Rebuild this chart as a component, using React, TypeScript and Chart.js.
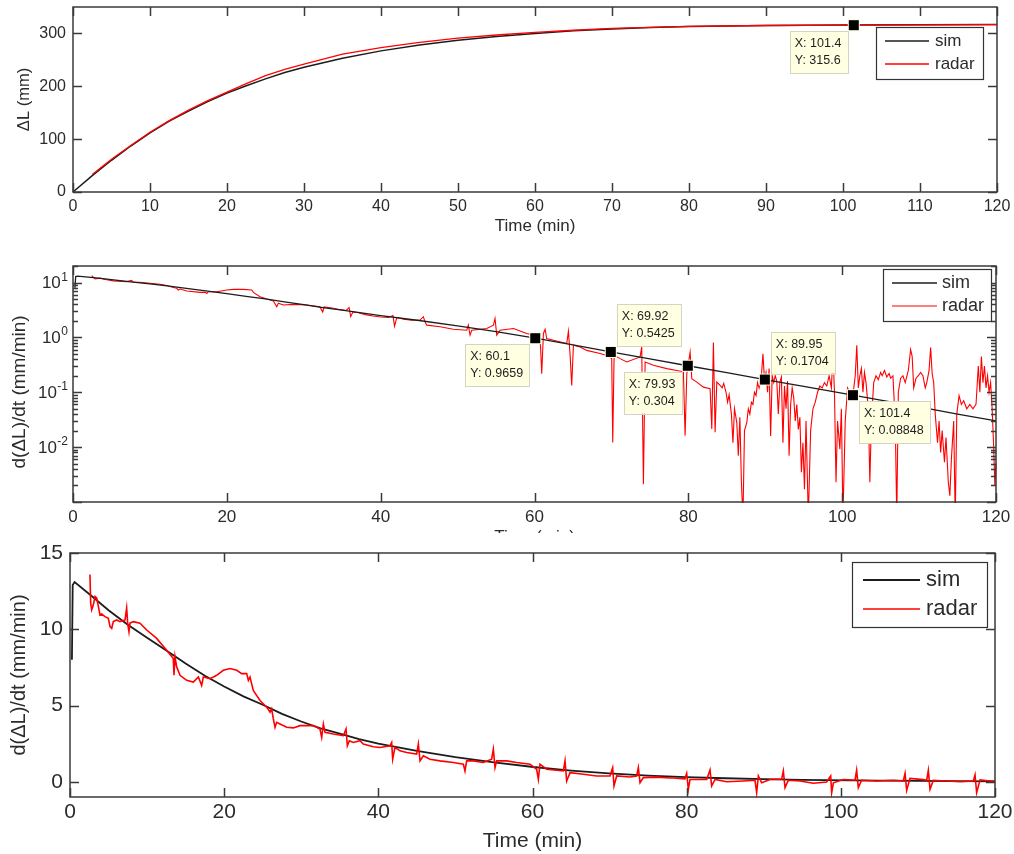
import React, { useEffect, useRef } from "react";
import { Chart, registerables } from "chart.js";

Chart.register(...registerables);

const FONT = '"Liberation Sans", Arial, Helvetica, sans-serif';
const INK = "#2b2b2b";
const SIM_COLOR = "#1c1c1c";
const RADAR_COLOR = "#ff0000";

// ---------------- data ----------------
const timeTicks10 = [0, 10, 20, 30, 40, 50, 60, 70, 80, 90, 100, 110, 120];
const timeTicks20 = [0, 20, 40, 60, 80, 100, 120];
const dlTicks = [0, 100, 200, 300];
const logTicks = [0.01, 0.1, 1, 10];
const rateTicks = [0, 5, 10, 15];

// Panel 1: cumulative ΔL (mm)
const simDLTime = [0, 2.5, 5, 7.5, 10, 12.5, 15, 17.5, 20, 22.5, 25, 27.5, 30, 35, 40, 45, 50, 55, 60, 65, 70, 75, 80, 90, 100, 110, 120];
const simDL = [0, 31, 60, 87, 112, 134, 153, 171, 187, 201, 214, 226, 236, 253, 267, 278, 287, 294, 300, 305, 308.5, 311, 313, 315, 316, 316.5, 317];
const radarDLTime = [2.5, 5, 7.5, 10, 12.5, 15, 17.5, 20, 22.5, 25, 27.5, 30, 35, 40, 45, 50, 55, 60, 65, 70, 80, 90, 101.4, 110, 120];
const radarDL = [33, 62, 88, 113, 135, 155, 173, 189, 205, 220, 232, 242, 261, 273, 283, 291, 297, 302, 306, 309.5, 313.5, 315, 315.6, 316, 316.5];
const tipDLTime = [101.4];
const tipDLValue = [315.6];

// Simulated rate d(ΔL)/dt (mm/min)
const simRateTime = [0.25, 0.35, 0.6, 3, 5, 7.5, 10, 12.5, 15, 17.5, 20, 22.5, 25, 27.5, 30, 32.5, 35, 37.5, 40, 45, 50, 55, 60.1, 65, 69.92, 75, 79.93, 85, 89.95, 95, 101.4, 105, 110, 115, 120];
const simRate = [8.0, 12.9, 13.1, 12.1, 11.25, 10.3, 9.45, 8.6, 7.75, 6.95, 6.25, 5.6, 5.05, 4.45, 3.95, 3.5, 3.15, 2.8, 2.5, 2.03, 1.62, 1.27, 0.966, 0.73, 0.5425, 0.405, 0.304, 0.228, 0.1704, 0.128, 0.08848, 0.072, 0.054, 0.04, 0.03];

// Radar rate
const radarLogTime = [
  2.43, 2.86, 3.51, 4.38, 5.24, 6.98, 7.63, 7.84, 8.71, 10.0, 11.3, 12.2, 13.05, 13.48, 13.7, 13.92, 14.8, 16.5, 17.2, 17.4,
  17.6, 18.7, 20.0, 20.85, 22.15, 23.24, 23.45, 24.32, 25.2, 26.06, 26.49, 26.7, 27.35, 28.65, 30.4, 32.1, 32.47, 32.65, 33.86, 34.73,
  35.5, 35.9, 36.1, 36.4, 37.0, 38.0, 39.0, 40.0, 41.0, 41.6, 41.8, 42.1, 43.0, 44.0, 45.12, 45.55, 45.77, 45.99, 47.72, 49.45,
  51.19, 51.4, 51.62, 51.84, 53.79, 54.66, 54.87, 55.09, 55.52, 57.26, 58.99, 59.86, 60.73, 60.94, 61.16, 61.38, 61.59, 62.46, 64.19, 64.41,
  64.63, 64.84, 65.06, 65.93, 66.79, 68.53, 69.39, 70.04, 70.17, 70.35, 71.13, 71.99, 73.73, 73.94, 74.16, 74.38, 75.46, 77.2, 78.5, 79.36,
  79.58, 79.8, 80.23, 80.45, 81.1, 81.96, 82.83, 83.05, 83.26, 83.48, 83.7, 84.13, 84.4, 84.6, 84.9, 85.1, 85.3, 85.6, 85.8, 86.0,
  86.3, 86.5, 86.7, 86.9, 87.1, 87.3, 87.6, 87.8, 88.0, 88.2, 88.4, 88.6, 88.8, 89.0, 89.2, 89.5, 89.7, 89.9, 90.1, 90.3,
  90.5, 90.7, 90.9, 91.1, 91.3, 91.5, 91.7, 91.9, 92.1, 92.3, 92.5, 92.7, 92.9, 93.1, 93.3, 93.5, 93.7, 93.9, 94.1, 94.3,
  94.5, 94.7, 94.9, 95.1, 95.3, 95.6, 95.9, 96.2, 96.5, 96.8, 97.1, 97.4, 97.7, 98.0, 98.3, 98.6, 98.8, 99.0, 99.2, 99.4,
  99.7, 99.9, 100.1, 100.4, 100.7, 101.0, 101.4, 101.7, 101.9, 102.1, 102.3, 102.5, 102.7, 102.9, 103.1, 103.4, 103.6, 103.8, 104.1, 104.4,
  104.7, 105.0, 105.2, 105.5, 105.8, 106.1, 106.3, 106.6, 106.9, 107.1, 107.3, 107.6, 107.9, 108.2, 108.6, 108.9, 109.1, 109.3, 109.6, 109.9,
  110.2, 110.5, 110.8, 111.0, 111.3, 111.5, 111.7, 111.9, 112.1, 112.4, 112.6, 112.8, 113.0, 113.3, 113.5, 113.8, 114.0, 114.2, 114.5, 114.7,
  114.9, 115.2, 115.5, 115.8, 116.2, 116.6, 117.0, 117.4, 117.7, 117.9, 118.1, 118.3, 118.5, 118.7, 118.9, 119.1, 119.3, 119.5, 119.7, 119.85,
  120.0,
];
const radarLogRate = [
  13.4, 11.6, 12.0, 11.2, 10.7, 10.4, 10.9, 10.1, 10.1, 9.7, 9.3, 8.8, 8.1, 7.85, 7.3, 7.6, 7.0, 6.6, 6.6, 6.3,
  6.8, 6.8, 7.3, 7.5, 7.5, 7.3, 6.6, 5.5, 5.0, 4.6, 3.6, 4.2, 3.9, 4.0, 3.9, 3.6, 2.9, 3.6, 3.4, 3.2,
  3.1, 3.5, 2.4, 2.9, 2.85, 2.6, 2.45, 2.35, 2.3, 2.5, 1.6, 2.3, 2.15, 2.05, 2.07, 2.38, 1.92, 1.67, 1.56, 1.41,
  1.35, 1.67, 1.1, 1.35, 1.45, 1.67, 2.21, 1.1, 1.35, 1.45, 1.18, 1.1, 1.02, 0.218, 1.18, 1.41, 0.95, 0.89, 0.77, 1.3,
  0.47, 0.133, 0.72, 0.67, 0.58, 0.51, 0.47, 0.41, 0.0122, 0.47, 0.41, 0.356, 0.44, 0.67, 0.0021, 0.356, 0.31, 0.27, 0.25, 0.234,
  0.0162, 0.218, 0.54, 0.177, 0.153, 0.124, 0.116, 0.0214, 0.81, 0.0186, 0.153, 0.133, 0.12, 0.145, 0.1, 0.066, 0.09, 0.04, 0.012, 0.05,
  0.028, 0.007, 0.035, 0.0023, 0.0005, 0.02, 0.028, 0.05, 0.04, 0.066, 0.06, 0.1, 0.087, 0.15, 0.12, 0.2, 0.5, 0.17, 0.23, 0.1,
  0.27, 0.016, 0.2, 0.15, 0.2, 0.16, 0.04, 0.15, 0.19, 0.012, 0.13, 0.05, 0.16, 0.007, 0.06, 0.12, 0.08, 0.03, 0.06, 0.021,
  0.035, 0.0035, 0.012, 0.0017, 0.03, 0.0005, 0.02, 0.05, 0.066, 0.1, 0.13, 0.12, 0.15, 0.13, 0.2, 0.12, 0.54, 0.1, 0.0023, 0.03,
  0.0092, 0.05, 0.0005, 0.03, 0.12, 0.1, 0.0885, 0.2, 0.72, 0.12, 0.2, 0.27, 0.1, 0.23, 0.15, 0.05, 0.0023, 0.03, 0.15, 0.2,
  0.17, 0.23, 0.2, 0.25, 0.19, 0.22, 0.18, 0.2, 0.03, 0.0005, 0.1, 0.18, 0.2, 0.15, 0.25, 0.6, 0.45, 0.12, 0.18, 0.2,
  0.23, 0.2, 0.12, 0.15, 0.25, 0.65, 0.22, 0.15, 0.04, 0.012, 0.03, 0.008, 0.02, 0.0053, 0.015, 0.0023, 0.0013, 0.006, 0.03, 0.0005,
  0.04, 0.087, 0.06, 0.07, 0.05, 0.06, 0.05, 0.06, 0.3, 0.1, 0.45, 0.15, 0.3, 0.12, 0.2, 0.1, 0.15, 0.05, 0.01, 0.002,
  0.005,
];
const tipRateTime = [60.1, 69.92, 79.93, 89.95, 101.4];
const tipRateValue = [0.9659, 0.5425, 0.304, 0.1704, 0.08848];

// Radar rate
const radarRateTime = [
  2.59, 2.68, 2.81, 3.03, 3.24, 3.46, 3.68, 3.89, 4.11, 4.54, 4.97, 5.19, 5.41, 5.62, 6.06, 6.49, 7.14, 7.35, 7.48, 7.65,
  7.78, 8.22, 9.08, 9.95, 11.24, 12.54, 13.4, 13.49, 13.62, 13.84, 14.27, 15.14, 16.0, 16.65, 17.08, 17.3, 18.16, 19.03, 19.89, 20.76,
  21.63, 22.27, 22.92, 23.14, 23.35, 23.78, 24.65, 25.52, 25.95, 26.16, 26.38, 26.6, 26.81, 27.24, 28.11, 28.97, 29.84, 31.57, 32.43, 32.65,
  32.87, 33.08, 34.16, 35.46, 35.81, 35.98, 36.24, 36.76, 37.62, 38.05, 39.35, 40.22, 41.51, 41.73, 41.86, 42.16, 42.81, 43.68, 44.97, 45.19,
  45.41, 45.84, 46.7, 48.0, 49.73, 51.03, 51.24, 51.46, 52.33, 53.62, 54.7, 54.92, 55.14, 55.35, 56.65, 57.95, 59.68, 60.54, 60.76, 60.97,
  61.84, 64.0, 64.22, 64.43, 64.87, 66.6, 68.33, 70.05, 70.4, 70.57, 70.92, 72.65, 73.51, 73.73, 73.95, 74.38, 76.11, 77.84, 78.27, 79.78,
  80.0, 80.22, 80.43, 82.6, 83.03, 83.24, 83.68, 85.19, 87.35, 88.86, 89.08, 89.3, 89.73, 90.81, 92.32, 92.54, 92.76, 93.19, 94.7, 96.43,
  98.16, 98.68, 98.81, 99.03, 100.32, 101.84, 102.05, 102.27, 102.7, 104.65, 106.81, 108.11, 108.33, 108.54, 108.97, 110.7, 111.14, 111.35, 111.57, 112.0,
  113.73, 115.46, 117.19, 117.41, 117.62, 118.06, 119.35, 120.0,
];
const radarRate = [
  13.59, 11.72, 11.27, 11.6, 12.15, 12.05, 11.5, 10.94, 11.0, 10.83, 10.72, 10.17, 10.06, 10.5, 10.61, 10.5, 10.61, 11.39, 10.4, 9.84,
  10.4, 10.5, 10.4, 9.95, 9.4, 8.63, 8.08, 6.98, 8.19, 7.53, 6.98, 6.65, 6.54, 6.87, 6.32, 6.87, 6.76, 6.98, 7.31, 7.42,
  7.31, 7.09, 7.09, 6.65, 6.87, 5.99, 5.33, 4.89, 4.56, 4.78, 4.12, 3.57, 3.9, 3.79, 3.57, 3.53, 3.68, 3.68, 3.46, 2.91,
  3.79, 3.24, 3.13, 3.02, 3.46, 2.36, 2.69, 2.58, 2.69, 2.47, 2.29, 2.25, 2.36, 2.58, 1.48, 2.25, 2.03, 1.92, 1.81, 2.47,
  1.37, 1.7, 1.48, 1.37, 1.26, 1.15, 0.71, 1.37, 1.37, 1.26, 1.48, 2.14, 0.93, 1.37, 1.37, 1.26, 1.15, 0.82, 0.16, 1.15,
  0.82, 0.71, 1.37, 0.05, 0.6, 0.49, 0.38, 0.38, 0.93, -0.28, 0.38, 0.31, 0.38, 0.93, -0.06, 0.27, 0.3, 0.25, 0.25, 0.19,
  0.55, -0.5, 0.15, 0.15, 0.78, -0.28, 0.15, 0.0, 0.05, 0.1, -0.72, 0.38, -0.07, 0.15, 0.17, 0.7, -0.39, 0.1, 0.05, -0.1,
  -0.02, 0.38, -0.72, -0.07, 0.15, 0.1, 0.75, -0.39, 0.1, 0.05, 0.1, 0.05, 0.55, -0.57, 0.22, 0.14, 0.1, 0.75, -0.5, 0.1,
  0.05, 0.0, 0.05, 0.45, -0.72, 0.12, 0.05, 0.05,
];

// ---------------- helpers ----------------
const pts = (xs: number[], ys: number[]) => xs.map((x, i) => ({ x, y: ys[i] }));

const matlabPlugin = {
  id: "matlab",
  afterDraw(chart: any, _args: any, o: any) {
    const { ctx, chartArea: a, scales } = chart;
    const xs = scales.x;
    const ys = scales.y;
    ctx.save();
    ctx.strokeStyle = o.frameColor;
    ctx.lineWidth = o.frameWidth;
    ctx.beginPath();
    const L = o.tickLen;
    for (const t of xs.ticks) {
      const px = Math.round(xs.getPixelForValue(t.value)) + 0.5;
      ctx.moveTo(px, a.bottom);
      ctx.lineTo(px, a.bottom - L);
      ctx.moveTo(px, a.top);
      ctx.lineTo(px, a.top + L);
    }
    for (const t of ys.ticks) {
      const py = Math.round(ys.getPixelForValue(t.value)) + 0.5;
      ctx.moveTo(a.left, py);
      ctx.lineTo(a.left + L, py);
      ctx.moveTo(a.right, py);
      ctx.lineTo(a.right - L, py);
    }
    if (o.logMinor) {
      for (let d = -3; d <= 1; d++) {
        for (let m = 1; m <= 9; m++) {
          const v = m * Math.pow(10, d);
          if (v < ys.min * 0.999 || v > ys.max) continue;
          const py = Math.round(ys.getPixelForValue(v)) + 0.5;
          const len = m === 1 ? L : o.minorLen;
          ctx.moveTo(a.left, py);
          ctx.lineTo(a.left + len, py);
          ctx.moveTo(a.right, py);
          ctx.lineTo(a.right - len, py);
        }
      }
    }
    ctx.stroke();
    ctx.strokeRect(a.left, a.top, a.right - a.left, a.bottom - a.top);

    // log labels with superscript exponents
    if (o.logLabels) {
      ctx.fillStyle = INK;
      for (const v of o.logLabels.values) {
        const e = Math.round(Math.log10(v));
        const py = ys.getPixelForValue(v);
        const right = a.left - o.logLabels.pad;
        ctx.font = `${o.logLabels.expSize}px ${FONT}`;
        const es = String(e);
        const ew = ctx.measureText(es).width;
        ctx.textAlign = "left";
        ctx.textBaseline = "alphabetic";
        ctx.fillText(es, right - ew, py - 2);
        ctx.font = `${o.logLabels.size}px ${FONT}`;
        ctx.textAlign = "right";
        ctx.textBaseline = "middle";
        ctx.fillText("10", right - ew - 0.5, py + 1);
      }
    }

    // data tips
    if (o.tips) {
      const T = o.tips;
      ctx.font = `${T.font}px ${FONT}`;
      for (let i = 0; i < T.x.length; i++) {
        const mx = xs.getPixelForValue(T.x[i]);
        const my = ys.getPixelForValue(T.y[i]);
        const l1 = `X: ${T.x[i]}`;
        const l2 = `Y: ${T.y[i]}`;
        const w = Math.ceil(Math.max(ctx.measureText(l1).width, ctx.measureText(l2).width)) + 11;
        const h = 42;
        const p = T.place[i];
        const bx = p[1] === "l" ? mx - 6 - w : mx + 6;
        const by = p[0] === "b" ? my + 6 : my - 6 - h;
        ctx.fillStyle = "#ffffe1";
        ctx.fillRect(bx, by, w, h);
        ctx.strokeStyle = "#d4d4c4";
        ctx.lineWidth = 1;
        ctx.strokeRect(Math.round(bx) + 0.5, Math.round(by) + 0.5, w, h);
        ctx.fillStyle = "#1e1e1e";
        ctx.textAlign = "left";
        ctx.textBaseline = "middle";
        ctx.fillText(l1, bx + 5, by + 12.5);
        ctx.fillText(l2, bx + 5, by + 29.5);
        ctx.fillStyle = "#ffffe1";
        ctx.fillRect(mx - 6, my - 6, 12, 12);
        ctx.fillStyle = "#000";
        ctx.fillRect(mx - 5, my - 5, 10, 10);
      }
    }

    // legend
    if (o.legend) {
      const G = o.legend;
      ctx.fillStyle = "#fff";
      ctx.fillRect(G.left, G.top, G.width, G.height);
      ctx.strokeStyle = "#333";
      ctx.lineWidth = 1.2;
      ctx.strokeRect(G.left + 0.5, G.top + 0.5, G.width, G.height);
      ctx.font = `${G.font}px ${FONT}`;
      ctx.textAlign = "left";
      ctx.textBaseline = "middle";
      chart.data.datasets.forEach((ds: any, i: number) => {
        const y = G.rows[i];
        ctx.strokeStyle = ds.borderColor;
        ctx.lineWidth = ds.borderWidth;
        ctx.beginPath();
        ctx.moveTo(G.lineX0, y);
        ctx.lineTo(G.lineX1, y);
        ctx.stroke();
        ctx.fillStyle = INK;
        ctx.fillText(ds.label, G.textX, y);
      });
    }
    ctx.restore();
  },
};

type PanelCfg = {
  canvasTop: number;
  canvasH: number;
  area: { left: number; right: number; top: number; bottom: number };
  tickFont: number;
  titleFont: number;
  yTitleFont: number;
  xTickPad: number;
  yTickPad: number;
  xTitlePadBottom: number;
  yTitlePadTop: number;
  yTitle: string;
  xTicks: number[];
  yTicks: number[];
  yType: "linear" | "logarithmic";
  yMin: number;
  yMax: number;
  datasets: any[];
  legend: any;
  tips: any;
  logLabels?: any;
};

function buildConfig(c: PanelCfg): any {
  const W = 1014;
  const off = c.canvasTop;
  const legend = {
    ...c.legend,
    top: c.legend.top - off,
    rows: c.legend.rows.map((r: number) => r - off),
  };
  return {
    type: "line",
    data: { datasets: c.datasets },
    options: {
      responsive: false,
      animation: false,
      events: [],
      layout: {
        padding: { left: 0, right: W - c.area.right, top: c.area.top - off, bottom: 0 },
      },
      elements: { point: { radius: 0 }, line: { tension: 0 } },
      plugins: {
        legend: { display: false },
        tooltip: { enabled: false },
        matlab: {
          frameColor: "#3a3a3a",
          frameWidth: 1.5,
          tickLen: 9,
          minorLen: 5,
          logMinor: c.yType === "logarithmic",
          logLabels: c.logLabels,
          tips: c.tips,
          legend,
        },
      },
      scales: {
        x: {
          type: "linear",
          min: 0,
          max: 120,
          afterBuildTicks: (s: any) => {
            s.ticks = c.xTicks.map((v) => ({ value: v }));
          },
          afterFit: (s: any) => {
            s.height = c.canvasH - (c.area.bottom - off);
            s.paddingLeft = 0;
            s.paddingRight = 0;
          },
          grid: { display: false, drawTicks: false },
          border: { display: false },
          ticks: {
            font: { family: FONT, size: c.tickFont },
            color: INK,
            padding: c.xTickPad,
            maxRotation: 0,
            autoSkip: false,
            callback: (v: any) => String(v),
          },
          title: {
            display: true,
            text: "Time (min)",
            font: { family: FONT, size: c.titleFont },
            color: INK,
            padding: { top: 0, bottom: c.xTitlePadBottom },
          },
        },
        y: {
          type: c.yType,
          min: c.yMin,
          max: c.yMax,
          afterBuildTicks: (s: any) => {
            s.ticks = c.yTicks.map((v) => ({ value: v }));
          },
          afterFit: (s: any) => {
            s.width = c.area.left;
            s.paddingTop = 0;
            s.paddingBottom = 0;
          },
          grid: { display: false, drawTicks: false },
          border: { display: false },
          ticks: {
            display: !c.logLabels,
            font: { family: FONT, size: c.tickFont },
            color: INK,
            padding: c.yTickPad,
            autoSkip: false,
            callback: (v: any) => String(v),
          },
          title: {
            display: true,
            text: c.yTitle,
            font: { family: FONT, size: c.yTitleFont },
            color: INK,
            padding: { top: c.yTitlePadTop, bottom: 0 },
          },
        },
      },
    },
    plugins: [matlabPlugin],
  };
}

const simLabel = "sim";
const radarLabel = "radar";

function ds(label: string, color: string, data: any[], width: number, order: number) {
  return {
    label,
    data,
    borderColor: color,
    backgroundColor: color,
    borderWidth: width,
    pointRadius: 0,
    fill: false,
    order,
    clip: 1,
  };
}

const panels: PanelCfg[] = [
  {
    canvasTop: 0,
    canvasH: 250,
    area: { left: 73, right: 997, top: 7, bottom: 192 },
    tickFont: 16,
    titleFont: 17,
    yTitleFont: 16.5,
    xTickPad: 5,
    yTickPad: 7,
    xTitlePadBottom: 13.8,
    yTitlePadTop: 15,
    yTitle: "ΔL (mm)",
    xTicks: timeTicks10,
    yTicks: dlTicks,
    yType: "linear",
    yMin: 0,
    yMax: 350,
    datasets: [
      ds(simLabel, SIM_COLOR, pts(simDLTime, simDL), 1.5, 1),
      ds(radarLabel, RADAR_COLOR, pts(radarDLTime, radarDL), 1.3, 0),
    ],
    legend: { left: 876, top: 27, width: 107, height: 52, lineX0: 885, lineX1: 929, textX: 935, rows: [41, 64], font: 17 },
    tips: { x: tipDLTime, y: tipDLValue, place: ["bl"], font: 12.5 },
  },
  {
    canvasTop: 250,
    canvasH: 300,
    area: { left: 73, right: 996, top: 266, bottom: 502 },
    tickFont: 17,
    titleFont: 17,
    yTitleFont: 19,
    xTickPad: 5.3,
    yTickPad: 5,
    xTitlePadBottom: 2.8,
    yTitlePadTop: 8.6,
    yTitle: "d(ΔL)/dt (mm/min)   ",
    xTicks: timeTicks20,
    yTicks: [0.001, ...logTicks],
    yType: "logarithmic",
    yMin: 0.001,
    yMax: 20,
    datasets: [
      ds(simLabel, SIM_COLOR, pts(simRateTime, simRate), 1.3, 0),
      ds(radarLabel, RADAR_COLOR, pts(radarLogTime, radarLogRate), 1.1, 1),
    ],
    legend: { left: 883, top: 269, width: 108, height: 52, lineX0: 892, lineX1: 937, textX: 942, rows: [283, 306], font: 18 },
    tips: { x: tipRateTime, y: tipRateValue, place: ["bl", "tr", "bl", "tr", "br"], font: 12.5 },
    logLabels: { values: logTicks, size: 17, expSize: 12, pad: 5 },
  },
  {
    canvasTop: 533,
    canvasH: 321,
    area: { left: 70, right: 995, top: 553, bottom: 797 },
    tickFont: 21,
    titleFont: 21,
    yTitleFont: 20,
    xTickPad: 2.9,
    yTickPad: 7,
    xTitlePadBottom: 0,
    yTitlePadTop: 7,
    yTitle: "d(ΔL)/dt (mm/min)",
    xTicks: timeTicks20,
    yTicks: rateTicks,
    yType: "linear",
    yMin: -1,
    yMax: 15,
    datasets: [
      ds(simLabel, SIM_COLOR, pts(simRateTime, simRate), 1.8, 1),
      ds(radarLabel, RADAR_COLOR, pts(radarRateTime, radarRate), 1.6, 0),
    ],
    legend: { left: 852, top: 562, width: 135, height: 65, lineX0: 863, lineX1: 920, textX: 926, rows: [580, 609], font: 22 },
    tips: null,
  },
];

function Panel({ cfg }: { cfg: PanelCfg }) {
  const ref = useRef<HTMLCanvasElement>(null);
  useEffect(() => {
    if (!ref.current) return;
    const chart = new Chart(ref.current, buildConfig(cfg));
    return () => chart.destroy();
  }, [cfg]);
  return (
    <canvas
      ref={ref}
      width={1014}
      height={cfg.canvasH}
      style={{
        position: "absolute",
        left: 0,
        top: cfg.canvasTop,
        width: 1014,
        height: cfg.canvasH,
        background: "#fff",
        display: "block",
      }}
    />
  );
}

export default function App() {
  return (
    <div
      style={{
        position: "absolute",
        left: 0,
        top: 0,
        width: 1014,
        height: 854,
        overflow: "hidden",
        background: "#fff",
      }}
    >
      {panels.map((p, i) => (
        <Panel key={i} cfg={p} />
      ))}
    </div>
  );
}
